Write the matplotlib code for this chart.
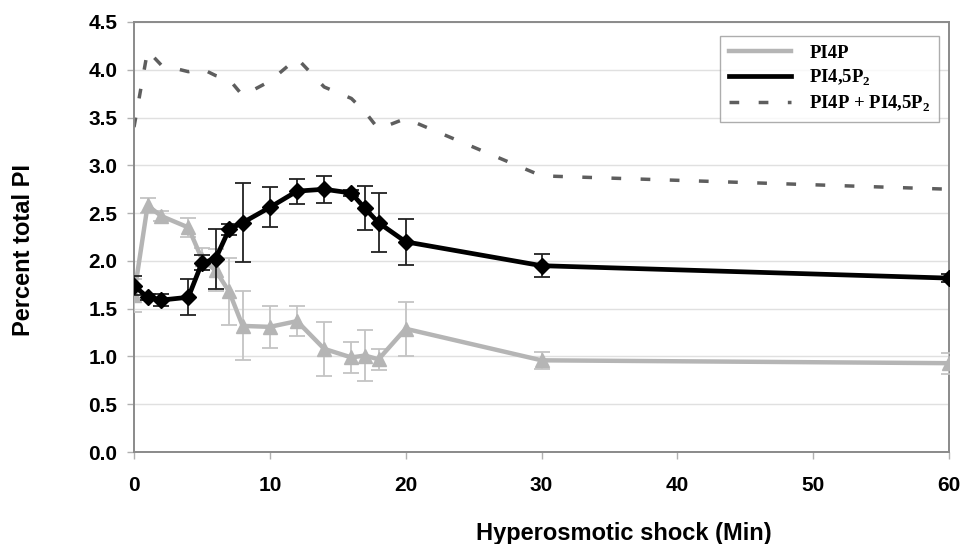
import numpy as np
import matplotlib
matplotlib.use("Agg")
from matplotlib import pyplot as plt
from matplotlib.lines import Line2D

# -----------------------
# data
# -----------------------
minutes = [0, 1, 2, 4, 5, 6, 7, 8, 10, 12, 14, 16, 17, 18, 20, 30, 60]

pi4p = [1.64, 2.58, 2.47, 2.35, 2.02, 1.90, 1.68, 1.32, 1.31, 1.37, 1.08, 0.99, 1.01, 0.97, 1.29, 0.96, 0.93]
pi4p_err = [0.17, 0.08, 0.05, 0.10, 0.12, 0.22, 0.35, 0.36, 0.22, 0.16, 0.28, 0.16, 0.27, 0.11, 0.28, 0.09, 0.11]

pip2 = [1.74, 1.62, 1.59, 1.62, 1.98, 2.02, 2.33, 2.40, 2.56, 2.73, 2.75, 2.71, 2.55, 2.40, 2.20, 1.95, 1.82]
pip2_err = [0.10, 0.03, 0.06, 0.19, 0.08, 0.31, 0.06, 0.41, 0.21, 0.13, 0.14, 0.03, 0.23, 0.31, 0.24, 0.12, 0.04]

total = [3.40, 4.20, 4.05, 3.98, 4.01, 3.94, 3.90, 3.73, 3.88, 4.12, 3.82, 3.70, 3.56, 3.38, 3.49, 2.89, 2.75]

y_ticks = [0.0, 0.5, 1.0, 1.5, 2.0, 2.5, 3.0, 3.5, 4.0, 4.5]
x_ticks = [0, 10, 20, 30, 40, 50, 60]

# -----------------------
# plotting
# -----------------------
plt.rcParams['font.family'] = ['Liberation Sans', 'DejaVu Sans']
plt.rcParams['mathtext.fontset'] = 'custom'
plt.rcParams['mathtext.rm'] = 'Liberation Serif'
plt.rcParams['mathtext.bf'] = 'Liberation Serif:bold'

fig = plt.figure(figsize=(9.62, 5.44), dpi=100)
ax = fig.add_axes([0.1393, 0.169, 0.8472, 0.7906])

light = '#b5b5b5'
dark = '#000000'
dash_col = '#5e5e5e'
dash_style = (0, (2.8, 5.6))

ax.errorbar(minutes, pi4p, yerr=pi4p_err, color=light, lw=3.2, marker='^', ms=10,
            ecolor='#c4c4c4', elinewidth=1.3, capsize=6, capthick=1.3, zorder=3)
ax.errorbar(minutes, pip2, yerr=pip2_err, color=dark, lw=3.4, marker='D', ms=8,
            ecolor='#222222', elinewidth=1.3, capsize=6, capthick=1.3, zorder=4)
ax.plot(minutes, total, color=dash_col, lw=2.5, linestyle=dash_style, zorder=2)

ax.set_xlim(0, 60)
ax.set_ylim(0, 4.5)
ax.set_xticks(x_ticks)
ax.set_yticks(y_ticks)
ax.set_yticklabels([f"{v:.1f}" for v in y_ticks])
ax.tick_params(axis='both', labelsize=15, length=5, width=1, color='#b0b0b0')
ax.tick_params(axis='x', pad=12)
ax.tick_params(axis='y', pad=7)
for lab in ax.get_xticklabels() + ax.get_yticklabels():
    lab.set_fontweight('bold')

ax.grid(axis='y', color='#e0e0e0', lw=1)
ax.set_axisbelow(True)
for s in ax.spines.values():
    s.set_color('#8a8a8a')
    s.set_linewidth(1.4)

ax.set_xlabel("Hyperosmotic shock (Min)", fontsize=17, fontweight='bold')
ax.xaxis.set_label_coords(0.601, -0.163)
ax.set_ylabel("Percent total PI", fontsize=17, fontweight='bold')
ax.yaxis.set_label_coords(-0.122, 0.47)

# legend with plain line handles
handles = [Line2D([], [], color=light, lw=3.2),
           Line2D([], [], color=dark, lw=3.4),
           Line2D([], [], color=dash_col, lw=2.5, linestyle=dash_style)]
labels = ['PI4P', r'PI4,5P$_\mathbf{2}$', r'PI4P + PI4,5P$_\mathbf{2}$']
leg = ax.legend(handles, labels, loc='upper right', bbox_to_anchor=(0.988, 0.967),
                borderaxespad=0,
                prop={'family': 'Liberation Serif', 'weight': 'bold', 'size': 13.5},
                frameon=True, fancybox=False, edgecolor='#999999', handlelength=3.3,
                handletextpad=1.0, borderpad=0.45, labelspacing=0.3)
leg.get_frame().set_linewidth(1.0)

fig.savefig("out.png", dpi=100)
